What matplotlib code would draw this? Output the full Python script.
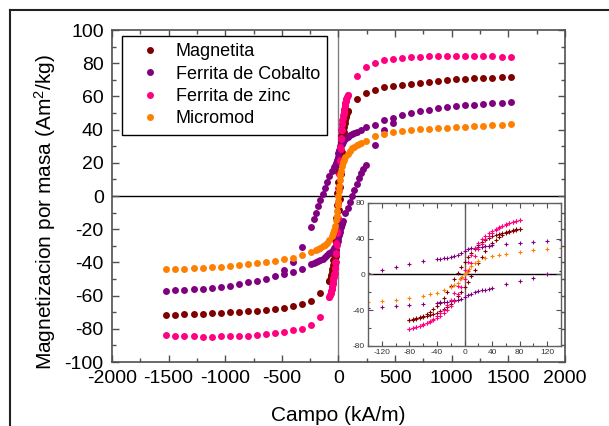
import numpy as np
import matplotlib
matplotlib.use('Agg')
import matplotlib.pyplot as plt
from matplotlib.lines import Line2D
from matplotlib.ticker import MultipleLocator

plt.rcParams['font.family'] = 'Liberation Sans'
plt.rcParams['mathtext.fontset'] = 'custom'
plt.rcParams['mathtext.rm'] = 'Liberation Sans'
plt.rcParams['mathtext.it'] = 'Liberation Sans'
plt.rcParams['axes.unicode_minus'] = False

# campo (kA/m) de las ramas saturadas
campo_sat_pos = [1520, 1440, 1360, 1280, 1200, 1120, 1040, 960, 880, 800, 720, 640, 560, 480, 400, 320, 240, 160]
campo_sat_neg = [-1520, -1440, -1360, -1280, -1200, -1120, -1040, -960, -880, -800, -720, -640, -560, -480, -400, -320, -240, -160]
# campo en la zona central del ciclo
campo_centro_desc = [80, 75, 70, 65, 60, 55, 50, 45, 40, 35, 30, 25, 20, 15, 10, 5, 0,
                     -5, -10, -15, -20, -25, -30, -35, -40, -45, -50, -55, -60, -65, -70, -75, -80]
campo_centro_asc = [-80, -75, -70, -65, -60, -55, -50, -45, -40, -35, -30, -25, -20, -15, -10, -5, 0,
                    5, 10, 15, 20, 25, 30, 35, 40, 45, 50, 55, 60, 65, 70, 75, 80]

# Magnetita
magnetita_sat_pos = [71.7, 71.5, 71.3, 71.1, 70.9, 70.5, 70.3, 69.9, 69.3, 68.9, 68.3, 67.7, 67.1, 66.3, 65.5, 63.9, 62.1, 58.7]
magnetita_sat_neg = [-71.5, -71.5, -71.3, -71.1, -70.9, -70.5, -70.3, -70.1, -69.7, -69.3, -69.1, -68.5, -68.1, -67.3, -66.5, -65.3, -63.5, -58.7]
magnetita_centro_desc = [51.2, 50.5, 49.7, 48.8, 47.8, 46.8, 45.6, 44.3, 42.8, 41.0, 38.8, 36.0, 32.5, 28.5, 24.0, 19.5, 14.5,
                         8.5, 2.0, -5.5, -13.0, -20.0, -26.5, -31.5, -35.5, -38.8, -41.5, -44.0, -46.0, -47.7, -49.2, -50.3, -51.2]
magnetita_centro_asc = [-51.2, -50.5, -49.7, -48.8, -47.8, -46.8, -45.6, -44.3, -42.8, -41.0, -38.8, -36.0, -32.5, -28.5, -24.0, -19.5, -14.5,
                        -8.5, -2.0, 5.5, 13.0, 20.0, 26.5, 31.5, 35.5, 38.8, 41.5, 44.0, 46.0, 47.7, 49.2, 50.3, 51.2]

# Ferrita de zinc
zinc_sat_pos = [83.6, 84.0, 84.2, 84.4, 84.6, 84.6, 84.6, 84.6, 84.4, 84.2, 84.0, 83.8, 83.4, 82.8, 82.0, 80.4, 77.6, 72.5]
zinc_sat_neg = [-84.0, -84.4, -84.6, -84.6, -84.8, -84.8, -84.6, -84.6, -84.4, -84.2, -83.8, -83.2, -82.6, -82.0, -80.8, -80.0, -77.8, -73.0]
zinc_centro_desc = [61.0, 59.9, 58.7, 57.4, 56.0, 54.4, 52.7, 50.8, 48.6, 46.1, 43.2, 39.5, 35.0, 29.5, 22.0, 13.5, 5.0,
                    -4.0, -13.0, -21.0, -28.5, -34.5, -39.5, -43.5, -46.8, -49.6, -52.0, -54.2, -55.9, -57.4, -58.7, -59.9, -61.0]
zinc_centro_asc = [-61.0, -59.9, -58.7, -57.4, -56.0, -54.4, -52.7, -50.8, -48.6, -46.1, -43.2, -39.5, -35.0, -29.5, -22.0, -13.5, -5.0,
                   4.0, 13.0, 21.0, 28.5, 34.5, 39.5, 43.5, 46.8, 49.6, 52.0, 54.2, 55.9, 57.4, 58.7, 59.9, 61.0]

# Ferrita de Cobalto (ciclo ancho)
cobalto_campo_desc = [1520, 1440, 1360, 1280, 1200, 1120, 1040, 960, 880, 800, 720, 640, 560, 480, 400, 320, 240,
                      200, 160, 140, 120, 100, 80, 60, 40,
                      35, 30, 25, 20, 15, 10, 5, 0, -5, -10, -15, -20, -25, -30, -35, -40,
                      -60, -80, -100, -120, -140, -160, -180, -200, -220, -245,
                      -325, -405, -485]
cobalto_desc = [56.7, 56.3, 55.9, 55.5, 55.1, 54.7, 54.1, 53.5, 52.9, 52.1, 51.1, 50.0, 48.7, 47.0, 45.7, 43.0, 41.3,
                39.8, 38.7, 38.1, 37.4, 36.6, 35.6, 34.5, 32.8,
                32.3, 31.8, 31.3, 30.8, 30.2, 29.4, 28.0, 26.0, 23.8, 22.0, 20.6, 19.6, 18.9, 18.3, 17.8, 17.3,
                15.0, 12.0, 8.5, 5.0, 1.5, -2.2, -6.0, -10.0, -14.0, -18.5,
                -30.5, -39.6, -44.6]
cobalto_campo_asc = [-1520, -1440, -1360, -1280, -1200, -1120, -1040, -960, -880, -800, -720, -640, -560, -480, -400, -320,
                     -245, -220, -200, -180, -160, -140, -120, -100, -80, -60,
                     -40, -35, -30, -25, -20, -15, -10, -5, 0, 5, 10, 15, 20, 25, 30, 35, 40,
                     60, 80, 100, 120, 140, 160, 180, 200, 220,
                     245, 325, 405, 485]
cobalto_asc = [-57.0, -56.8, -56.4, -56.3, -55.8, -55.4, -54.8, -54.0, -53.2, -52.0, -51.0, -49.8, -48.4, -47.2, -45.6, -44.0,
               -41.0, -40.6, -40.0, -39.3, -38.5, -37.7, -36.8, -35.8, -34.6, -33.2,
               -31.6, -31.2, -30.8, -30.3, -29.8, -29.2, -28.4, -27.2, -25.5, -23.5, -21.5, -20.0, -18.8, -17.8, -16.8, -15.8, -14.8,
               -10.5, -7.0, -3.5, 0.0, 3.5, 7.5, 11.0, 14.0, 16.5,
               18.7, 30.7, 39.8, 44.2]

# Micromod (sin histeresis apreciable)
micromod_campo = [-1520, -1440, -1360, -1280, -1200, -1120, -1040, -960, -880, -800, -720, -640, -560, -480, -400, -320, -240,
                  -200, -180, -160, -140, -120, -100, -80, -60,
                  -50, -40, -30, -20, -15, -10, -6, -3, 0, 3, 6, 10, 15, 20, 30, 40, 50,
                  60, 80, 100, 120, 140, 160, 180, 200,
                  240, 320, 400, 480, 560, 640, 720, 800, 880, 960, 1040, 1120, 1200, 1280, 1360, 1440, 1520]
micromod = [-44.2, -43.8, -43.8, -43.6, -43.2, -42.8, -42.6, -42.2, -41.8, -41.2, -40.5, -39.9, -39.0, -38.2, -37.2, -35.5, -33.6,
            -32.4, -31.8, -31.2, -30.4, -29.4, -28.0, -26.2, -23.8,
            -22.2, -20.2, -17.8, -14.5, -12.0, -9.0, -5.5, -2.8, 0.0, 3.0, 6.0, 9.5, 12.8, 15.2, 18.2, 20.4, 22.0,
            23.4, 25.6, 27.3, 28.7, 29.8, 30.7, 31.4, 32.1,
            33.0, 35.9, 37.5, 38.5, 39.1, 39.7, 40.1, 40.5, 40.7, 41.1, 41.3, 41.5, 41.9, 42.3, 42.5, 42.9, 43.3]

colores = ['#800000', '#800080', '#ff0080', '#ff8000']
nombres = ['Magnetita', 'Ferrita de Cobalto', 'Ferrita de zinc', 'Micromod']

# cada muestra: lista de ramas (campo, magnetizacion)
muestras = [
    [(campo_sat_pos + campo_centro_desc, magnetita_sat_pos + magnetita_centro_desc),
     (campo_sat_neg + campo_centro_asc, magnetita_sat_neg + magnetita_centro_asc)],
    [(cobalto_campo_desc, cobalto_desc),
     (cobalto_campo_asc, cobalto_asc)],
    [(campo_sat_pos + campo_centro_desc, zinc_sat_pos + zinc_centro_desc),
     (campo_sat_neg + campo_centro_asc, zinc_sat_neg + zinc_centro_asc)],
    [(micromod_campo, micromod)],
]

fig = plt.figure(figsize=(6.09, 4.26), dpi=100)
ax = fig.add_axes([0.1839, 0.1502, 0.7438, 0.7793])

ax.axhline(0, color='black', lw=1, zorder=1)
ax.axvline(0, color='#808080', lw=1, zorder=1)

handles = []
for ramas, c, nombre in zip(muestras, colores, nombres):
    for x, y in ramas:
        ax.plot(x, y, 'o', ms=5, mew=0, color=c, zorder=2)
    handles.append(Line2D([], [], ls='none', marker='o', ms=5, mew=0, color=c, label=nombre))

ax.set_xlim(-2000, 2000)
ax.set_ylim(-100, 100)
ax.xaxis.set_major_locator(MultipleLocator(500))
ax.xaxis.set_minor_locator(MultipleLocator(250))
ax.yaxis.set_major_locator(MultipleLocator(20))
ax.yaxis.set_minor_locator(MultipleLocator(10))
ax.tick_params(which='both', direction='in', top=True, right=True, color='#505050', width=1)
ax.tick_params(which='major', length=5, labelsize=14, pad=6)
ax.tick_params(which='minor', length=3)
for s in ax.spines.values():
    s.set_color('#505050')
    s.set_linewidth(1.2)

ax.set_xlabel('Campo (kA/m)', fontsize=15)
ax.xaxis.set_label_coords(0.5, -0.1325)
ax.set_ylabel('Magnetizacion por masa (Am$^2$/kg)', fontsize=15)
ax.yaxis.set_label_coords(-0.119, 0.452)

leg = ax.legend(handles=handles, loc='upper left', bbox_to_anchor=(0.021, 0.982), borderaxespad=0,
                fancybox=False, framealpha=1, edgecolor='black', fontsize=13,
                handlelength=2.4, handletextpad=0.2, borderpad=0.4, labelspacing=0.3)
leg.get_frame().set_linewidth(1.0)

# recuadro con la zona central ampliada
axin = fig.add_axes([0.6043, 0.1878, 0.3169, 0.3357])
axin.axhline(0, color='black', lw=1, zorder=1)
axin.axvline(0, color='#606060', lw=1, zorder=1)
for ramas, c in zip(muestras, colores):
    for x, y in ramas:
        axin.plot(x, y, '+', ms=3, mew=0.8, color=c, zorder=2)
axin.set_xlim(-140, 140)
axin.set_ylim(-80, 80)
axin.xaxis.set_major_locator(MultipleLocator(40))
axin.xaxis.set_minor_locator(MultipleLocator(20))
axin.yaxis.set_major_locator(MultipleLocator(40))
axin.yaxis.set_minor_locator(MultipleLocator(20))
axin.set_xticks([-120, -80, -40, 0, 40, 80, 120])
axin.tick_params(which='both', direction='in', top=True, right=True, color='#505050', width=0.8)
axin.tick_params(which='major', length=3.5, labelsize=6, pad=2, labelcolor='#333333')
axin.tick_params(which='minor', length=2)
for s in axin.spines.values():
    s.set_color('#606060')
    s.set_linewidth(1.0)

# marco exterior
fig.add_artist(Line2D([10 / 609, 1], [1 - 10 / 426, 1 - 10 / 426], transform=fig.transFigure, color='#222222', lw=1.5))
fig.add_artist(Line2D([10 / 609, 10 / 609], [0, 1 - 10 / 426], transform=fig.transFigure, color='#222222', lw=1.5))

fig.savefig('out.png', dpi=100)
